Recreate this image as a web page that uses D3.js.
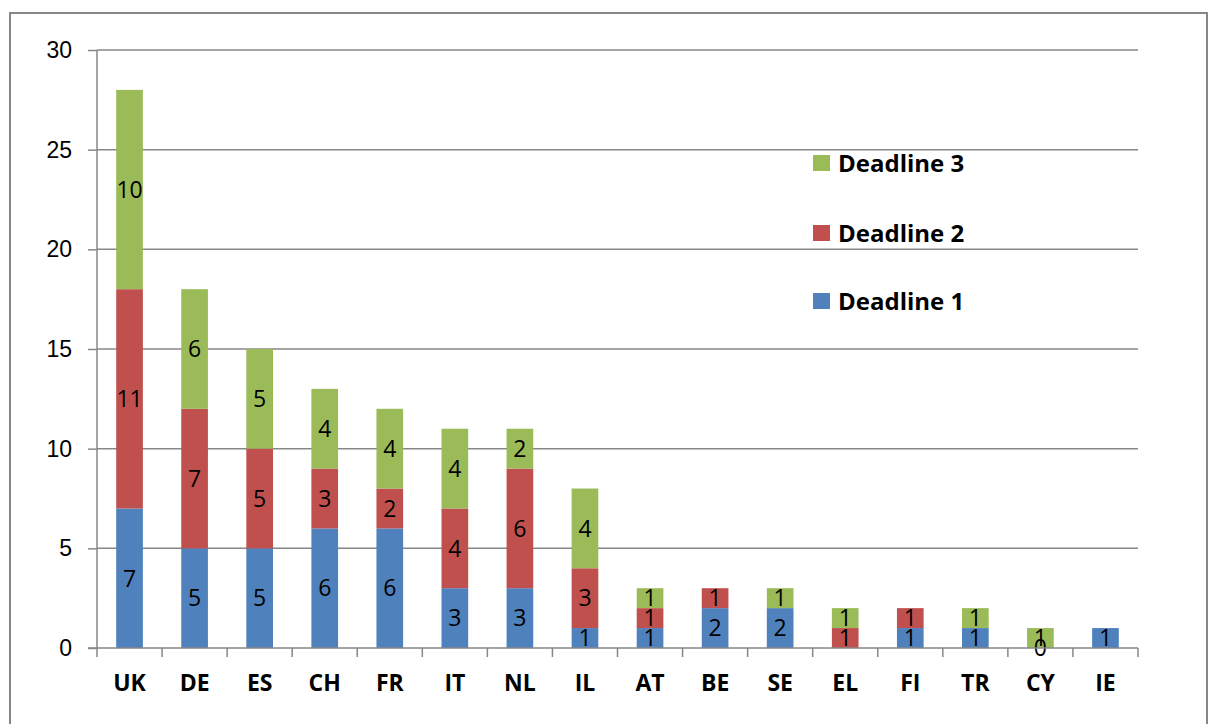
<!DOCTYPE html>
<head>
    <meta charset="utf-8">
    <style>
        html, body { margin: 0; padding: 0; background: #fff; }
        svg { display: block; font-family: "Open Sans", "Noto Sans", sans-serif; }
        .grid line { stroke: #878787; stroke-width: 1.5px; }
        .seg-label { font-size: 23px; fill: #000; }
        .tick-label { font-size: 23px; fill: #000; }
        .cat-label { font-size: 23px; font-weight: bold; fill: #000; }
        .legend text { font-size: 24px; font-weight: bold; fill: #000; }
    </style>
    <script src="https://cdn.jsdelivr.net/npm/d3@7"></script>
</head>
<body>
    <div id="chart"></div>
    <script>
        // Countries along the x axis
        var categories = ["UK", "DE", "ES", "CH", "FR", "IT", "NL", "IL", "AT", "BE", "SE", "EL", "FI", "TR", "CY", "IE"];
        // null = no segment and no label
        var deadline1 = [7, 5, 5, 6, 6, 3, 3, 1, 1, 2, 2, null, 1, 1, 0, 1];
        var deadline2 = [11, 7, 5, 3, 2, 4, 6, 3, 1, 1, null, 1, 1, null, null, null];
        var deadline3 = [10, 6, 5, 4, 4, 4, 2, 4, 1, null, 1, 1, null, 1, 1, null];
        var seriesNames = ["Deadline 1", "Deadline 2", "Deadline 3"];
        var seriesColors = ["#4F81BD", "#C0504D", "#9BBB59"];
        var yTicks = [0, 5, 10, 15, 20, 25, 30];

        var width = 1209, height = 724;
        var plot = { left: 97, right: 1138, top: 50, bottom: 648 };

        var svg = d3.select("#chart").append("svg")
            .attr("width", width)
            .attr("height", height);

        // outer frame of the chart object
        svg.append("rect")
            .attr("x", 10).attr("y", 13)
            .attr("width", 1197).attr("height", 730)
            .attr("fill", "none")
            .attr("stroke", "#878787")
            .attr("stroke-width", 2);

        var x = d3.scaleBand()
            .domain(categories)
            .range([plot.left, plot.right])
            .paddingInner(0.59)
            .paddingOuter(0.295);

        var y = d3.scaleLinear()
            .domain([0, 30])
            .range([plot.bottom, plot.top]);

        // horizontal gridlines
        svg.append("g").attr("class", "grid")
            .selectAll("line")
            .data(yTicks.filter(function (d) { return d > 0; }))
            .enter().append("line")
            .attr("x1", plot.left).attr("x2", plot.right)
            .attr("y1", function (d) { return y(d); })
            .attr("y2", function (d) { return y(d); });

        // stack the data
        var rows = categories.map(function (c, i) {
            return { cat: c, vals: [deadline1[i], deadline2[i], deadline3[i]] };
        });

        var segments = [];
        rows.forEach(function (r) {
            var base = 0;
            r.vals.forEach(function (v, s) {
                if (v === null) return;
                segments.push({ cat: r.cat, s: s, v: v, y0: base, y1: base + v });
                base += v;
            });
        });

        svg.append("g").selectAll("rect")
            .data(segments.filter(function (d) { return d.v > 0; }))
            .enter().append("rect")
            .attr("x", function (d) { return x(d.cat); })
            .attr("width", x.bandwidth())
            .attr("y", function (d) { return y(d.y1); })
            .attr("height", function (d) { return y(d.y0) - y(d.y1); })
            .attr("fill", function (d) { return seriesColors[d.s]; });

        svg.append("g").selectAll("text")
            .data(segments)
            .enter().append("text")
            .attr("class", "seg-label")
            .attr("x", function (d) { return x(d.cat) + x.bandwidth() / 2; })
            .attr("y", function (d) { return (y(d.y0) + y(d.y1)) / 2; })
            .attr("dy", "0.36em")
            .attr("text-anchor", "middle")
            .text(function (d) { return d.v; });

        // y axis
        var yAxis = svg.append("g")
            .attr("transform", "translate(" + plot.left + ",0)")
            .call(d3.axisLeft(y).tickValues(yTicks).tickSize(9).tickPadding(16));
        yAxis.select(".domain").attr("stroke", "#878787").attr("stroke-width", 1.5)
            .attr("d", "M0," + plot.top + "V" + plot.bottom);
        yAxis.selectAll(".tick line").attr("stroke", "#878787").attr("stroke-width", 1.5);
        yAxis.selectAll(".tick text").attr("class", "tick-label").attr("font-size", null).attr("font-family", null);

        // x axis with ticks between categories
        var xAxis = svg.append("g")
            .attr("transform", "translate(0," + plot.bottom + ")");
        xAxis.append("line")
            .attr("x1", plot.left - 9).attr("x2", plot.right)
            .attr("stroke", "#878787").attr("stroke-width", 1.5);
        var step = x.step();
        var bounds = d3.range(categories.length + 1).map(function (i) { return plot.left + i * step; });
        xAxis.selectAll(".xt")
            .data(bounds)
            .enter().append("line")
            .attr("x1", function (d) { return d; }).attr("x2", function (d) { return d; })
            .attr("y1", 0).attr("y2", 9)
            .attr("stroke", "#878787").attr("stroke-width", 1.5);
        xAxis.selectAll("text")
            .data(categories)
            .enter().append("text")
            .attr("class", "cat-label")
            .attr("x", function (d) { return x(d) + x.bandwidth() / 2; })
            .attr("y", 35)
            .attr("dy", "0.36em")
            .attr("text-anchor", "middle")
            .text(function (d) { return d; });

        // legend, top entry is Deadline 3
        var legendY = [301, 233, 163];
        var legend = svg.append("g").attr("class", "legend")
            .selectAll("g")
            .data(seriesNames)
            .enter().append("g")
            .attr("transform", function (d, i) { return "translate(813," + legendY[i] + ")"; });
        legend.append("rect")
            .attr("x", 0).attr("y", -8)
            .attr("width", 17).attr("height", 16)
            .attr("fill", function (d, i) { return seriesColors[i]; });
        legend.append("text")
            .attr("x", 25)
            .attr("dy", "0.36em")
            .text(function (d) { return d; });
    </script>
</body>
